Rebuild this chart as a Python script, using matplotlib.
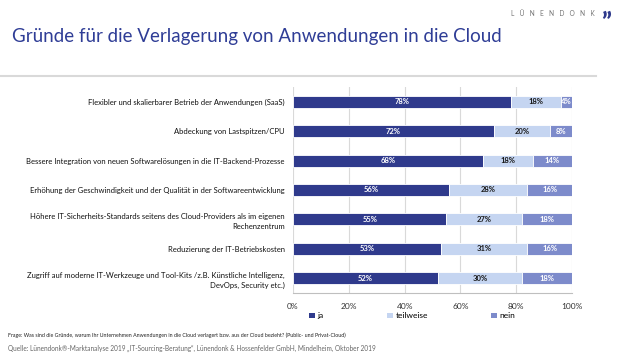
import matplotlib
matplotlib.use("Agg")
import matplotlib.pyplot as plt
from matplotlib.patches import Patch
import numpy as np

plt.rcParams['font.family'] = ['Lato', 'DejaVu Sans']

# data
categories = [
    "Flexibler und skalierbarer Betrieb der Anwendungen (SaaS)",
    "Abdeckung von Lastspitzen/CPU",
    "Bessere Integration von neuen Softwarelösungen in die IT-Backend-Prozesse",
    "Erhöhung der Geschwindigkeit und der Qualität in der Softwareentwicklung",
    "Höhere IT-Sicherheits-Standards seitens des Cloud-Providers als im eigenen\nRechenzentrum",
    "Reduzierung der IT-Betriebskosten",
    "Zugriff auf moderne IT-Werkzeuge und Tool-Kits /z.B. Künstliche Intelligenz,\nDevOps, Security etc.)",
]
ja = [78, 72, 68, 56, 55, 53, 52]
teilweise = [18, 20, 18, 28, 27, 31, 30]
nein = [4, 8, 14, 16, 18, 16, 18]
series_names = ["ja", "teilweise", "nein"]
xticks = [0, 20, 40, 60, 80, 100]

col_ja = "#2f3a8c"
col_teil = "#c5d5f1"
col_nein = "#7d8bcb"
grid_col = "#d9d9d9"

fig = plt.figure(figsize=(6.2, 3.57), dpi=100)
ax = fig.add_axes([0.4726, 0.1793, 0.45, 0.5770])

y = np.arange(len(categories))
h = 0.41
left = np.zeros(len(categories))
for vals, col, tcol in [(ja, col_ja, "white"), (teilweise, col_teil, "#1a1a1a"), (nein, col_nein, "white")]:
    bars = ax.barh(y, vals, left=left, height=h, color=col, edgecolor="white", linewidth=0.6, zorder=3)
    for b, v in zip(bars, vals):
        ax.text(b.get_x() + b.get_width() / 2, b.get_y() + b.get_height() / 2, f"{v}%",
                ha="center", va="center", color=tcol, fontsize=5.5, fontweight="bold", zorder=4)
    left = left + np.array(vals)

ax.set_xlim(0, 100)
ax.set_ylim(len(categories) - 0.5, -0.5)
ax.set_xticks(xticks)
ax.set_xticklabels([f"{t}%" for t in xticks], fontsize=6, color="#333333")
ax.set_yticks(y)
ax.set_yticklabels(categories, fontsize=5.5, color="#111111", linespacing=1.5)
ax.tick_params(axis="both", length=0, pad=7)
ax.tick_params(axis="y", pad=6)
ax.grid(axis="x", color=grid_col, linewidth=0.8, zorder=0)
for s in ["top", "right", "left"]:
    ax.spines[s].set_visible(False)
ax.spines["bottom"].set_color("#bfbfbf")
ax.spines["bottom"].set_linewidth(0.8)

handles = [Patch(facecolor=c, edgecolor="none") for c in [col_ja, col_teil, col_nein]]
fig.legend(handles, series_names, loc="center left", bbox_to_anchor=(0.499, 0.115), ncol=3,
           frameon=False, fontsize=6, handlelength=0.7, handleheight=0.7, handletextpad=0.3,
           columnspacing=7.6, borderpad=0, borderaxespad=0)

# header
fig.text(0.019, 0.899, "Gründe für die Verlagerung von Anwendungen in die Cloud",
         fontsize=13.5, color="#2f3d96", va="center", ha="left")
fig.add_artist(plt.Line2D([0, 0.961], [0.787, 0.787], color=grid_col, linewidth=1.5))
fig.text(0.960, 0.963, "L   Ü   N   E   N   D   O   N   K", fontsize=4.8, color="#777777",
         va="center", ha="right")
fig.text(0.970, 0.916, "\u201d", fontsize=18, color="#2f3a8c", fontweight="black",
         va="baseline", ha="left")

# footnotes
fig.text(0.013, 0.062, "Frage: Was sind die Gründe, warum Ihr Unternehmen Anwendungen in die Cloud verlagert bzw. aus der Cloud bezieht? (Public- und Privat-Cloud)",
         fontsize=3.8, color="#222222", va="center", ha="left")
fig.text(0.013, 0.025, "Quelle: Lünendonk®-Marktanalyse 2019 \u201eIT-Sourcing-Beratung\u201c, Lünendonk & Hossenfelder GmbH, Mindelheim, Oktober 2019",
         fontsize=4.7, color="#666666", va="center", ha="left")

fig.savefig("out.png", dpi=100)
